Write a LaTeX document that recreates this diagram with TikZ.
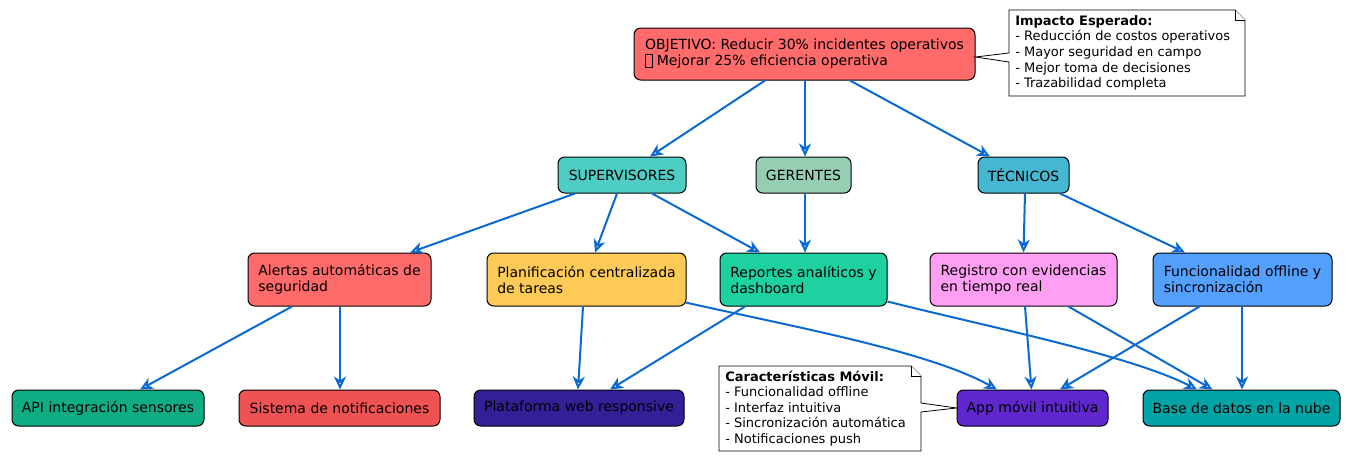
\documentclass[tikz,border=0pt]{standalone}
\usepackage{fontspec}
\setmainfont{DejaVu Sans}
\usetikzlibrary{arrows.meta,calc}
\definecolor{arrowc}{HTML}{0A6AD0}
\definecolor{cobj}{HTML}{FF6B6B}
\definecolor{csup}{HTML}{4ECDC4}
\definecolor{cger}{HTML}{96CEB4}
\definecolor{ctec}{HTML}{45B7D1}
\definecolor{cale}{HTML}{FF6B6B}
\definecolor{cpla}{HTML}{FECA57}
\definecolor{crep}{HTML}{1DD1A1}
\definecolor{creg}{HTML}{FF9FF3}
\definecolor{cfun}{HTML}{54A0FF}
\definecolor{capi}{HTML}{10AC84}
\definecolor{csis}{HTML}{EE5253}
\definecolor{cpla2}{HTML}{341F97}
\definecolor{capp}{HTML}{5F27CD}
\definecolor{cbase}{HTML}{01A3A4}
\newcommand{\tofubox}{\raisebox{-1pt}{\fboxsep=0pt\fboxrule=0.5pt\fbox{\rule{0pt}{9.5pt}\hspace{4.5pt}}}}
\tikzset{
  box/.style={draw=black, line width=0.75pt, rounded corners=5pt, inner sep=0pt,
    align=left, font=\fontsize{10.5}{12}\selectfont, text=black},
  small/.style={box, minimum height=27pt},
  tall/.style={box, minimum height=39.75pt},
  conn/.style={draw=arrowc, line width=1.5pt,
    -{Stealth[open, length=9.75pt, width=9pt, inset=3pt]}},
  notetext/.style={font=\fontsize{9.75}{11.7}\selectfont, align=left, inner sep=0pt, anchor=west},
  notebox/.style={draw=black, fill=white, line width=0.6pt},
}
\begin{document}
\begin{tikzpicture}[x=0.75pt,y=-0.75pt]
\useasboundingbox[fill=white] (0,0) rectangle (1346,457);

% nodes
\node[box, fill=cobj, minimum width=255.75pt, minimum height=39pt] (obj) at (804.5,54)
  {OBJETIVO: Reducir 30\% incidentes operativos\\\tofubox{} Mejorar 25\% eficiencia operativa};
\node[small, fill=csup, minimum width=96pt] (sup) at (622,175) {SUPERVISORES};
\node[small, fill=cger, minimum width=71.25pt] (ger) at (803.5,175) {GERENTES};
\node[small, fill=ctec, minimum width=68.25pt] (tec) at (1023.5,175) {TÉCNICOS};

\node[tall, fill=cale, minimum width=137.25pt] (ale) at (339.5,279.5) {Alertas automáticas de\\seguridad};
\node[tall, fill=cpla, minimum width=149.25pt] (pla) at (586.5,279.5) {Planificación centralizada\\de tareas};
\node[tall, fill=crep, minimum width=125.25pt] (rep) at (803.5,279.5) {Reportes analíticos y\\dashboard};
\node[tall, fill=creg, minimum width=140.25pt] (reg) at (1023.5,279.5) {Registro con evidencias\\en tiempo real};
\node[tall, fill=cfun, minimum width=134.25pt] (fun) at (1242.5,279.5) {Funcionalidad offline y\\sincronización};

\node[small, fill=capi, minimum width=144pt] (api) at (108,408) {API integración sensores};
\node[small, fill=csis, minimum width=150.75pt] (sis) at (339.5,408) {Sistema de notificaciones};
\node[small, fill=cpla2, minimum width=157.5pt] (plat) at (579,408) {Plataforma web responsive};
\node[small, fill=capp, minimum width=113.25pt] (app) at (1032.5,408) {App móvil intuitiva};
\node[small, fill=cbase, minimum width=147.75pt] (base) at (1241.5,408) {Base de datos en la nube};

% connectors
\draw[conn] ($(obj.south)+(-39.5,0)$) -- ($(sup.north)+(28,0)$);
\draw[conn] ($(obj.south)+(0.5,0)$) -- ($(ger.north)+(1.5,0)$);
\draw[conn] ($(obj.south)+(45.5,0)$) -- ($(tec.north)+(-33.5,0)$);

\draw[conn] ($(sup.south)+(-47,0)$) -- ($(ale.north)+(70.5,0)$);
\draw[conn] ($(sup.south)+(-5,0)$) -- ($(pla.north)+(8.5,0)$);
\draw[conn] ($(sup.south)+(30,0)$) -- ($(rep.north)+(-43.5,0)$);
\draw[conn] ($(ger.south)+(1.5,0)$) -- ($(rep.north)+(1.5,0)$);
\draw[conn] ($(tec.south)+(1.5,0)$) -- ($(reg.north)+(0,0)$);
\draw[conn] ($(tec.south)+(36.5,0)$) -- ($(fun.north)+(-57.5,0)$);

\draw[conn] ($(ale.south)+(-47.5,0)$) -- ($(api.north)+(32,0)$);
\draw[conn] ($(ale.south)+(0.5,0)$) -- ($(sis.north)+(0.5,0)$);
\draw[conn] ($(pla.south)+(-3.5,0)$) -- ($(plat.north)+(-1,0)$);
\draw[conn] ($(pla.south east)+(-1,-4)$) .. controls (800,328) and (930,352) .. ($(app.north)+(-35.5,0)$);
\draw[conn] ($(rep.south)+(-58.5,0)$) -- ($(plat.north)+(31,0)$);
\draw[conn] ($(rep.south east)+(0,-5)$) .. controls (980,325) and (1130,355) .. ($(base.north)+(-44.5,0)$);
\draw[conn] ($(reg.south)+(1.5,0)$) -- ($(app.north)+(-1,0)$);
\draw[conn] ($(reg.south)+(45,0)$) -- ($(base.north)+(-29,0)$);
\draw[conn] ($(fun.south)+(-43,0)$) -- ($(app.north)+(27.5,0)$);
\draw[conn] ($(fun.south)+(-0.5,0)$) -- ($(base.north)+(0.5,0)$);

% note 1
\coordinate (apex1) at ($(obj.east)+(0,3)$);
\draw[notebox] (1009,10) -- (1235,10) -- (1245,20) -- (1245,96) -- (1009,96) -- (1009,62)
  -- (apex1) -- (1009,53) -- cycle;
\draw[notebox] (1235,10) -- (1235,20) -- (1245,20);
\node[notetext] (n1) at (1015,53) {\textbf{Impacto Esperado:}\\- Reducción de costos operativos\\- Mayor seguridad en campo\\- Mejor toma de decisiones\\- Trazabilidad completa};

% note 2
\coordinate (apex2) at (app.west);
\draw[notebox] (719,366) -- (911,366) -- (921,376) -- (921,403) -- (apex2) -- (921,412)
  -- (921,451) -- (719,451) -- cycle;
\draw[notebox] (911,366) -- (911,376) -- (921,376);
\node[notetext] (n2) at (725,408.5) {\textbf{Características Móvil:}\\- Funcionalidad offline\\- Interfaz intuitiva\\- Sincronización automática\\- Notificaciones push};
\end{tikzpicture}
\end{document}
